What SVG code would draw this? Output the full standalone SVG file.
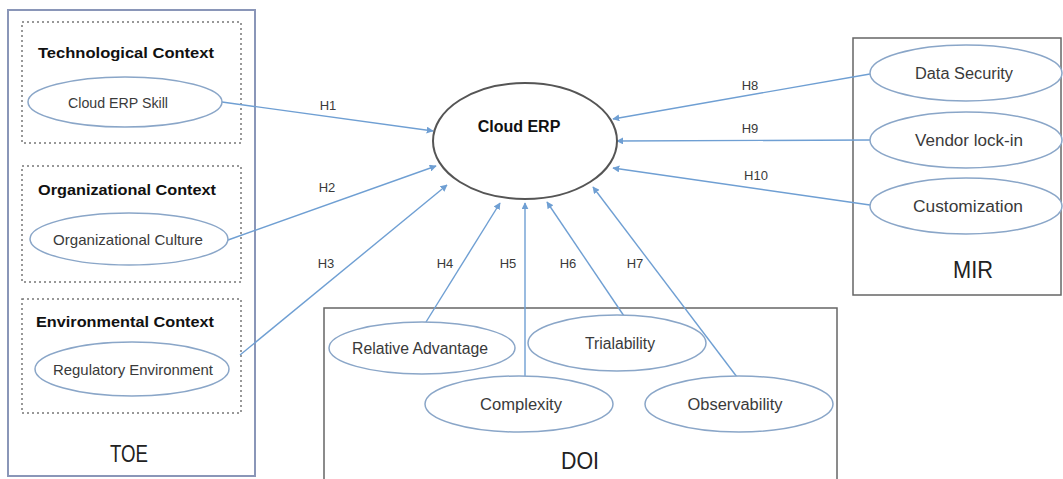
<svg xmlns="http://www.w3.org/2000/svg" width="1063" height="479" viewBox="0 0 1063 479">
<defs>
<style>
text{font-family:"Liberation Sans","DejaVu Sans",sans-serif;fill:#3a3a3a;text-anchor:middle;dominant-baseline:central}
.b{font-weight:bold;fill:#111;font-size:15px}
.n{font-size:15px}
.m{font-size:16px}
.h{font-size:13px}
.big{font-size:23px;fill:#222}
.el{fill:#fff;stroke:#8aa6c8;stroke-width:1.5}
.dot{fill:none;stroke:#777;stroke-width:1.5;stroke-dasharray:2 3}
.box{fill:none;stroke:#666;stroke-width:1.5}
.c{stroke:#6f9fd3;stroke-width:1.4;fill:none;marker-end:url(#ar)}
</style>
<marker id="ar" viewBox="0 0 10 10" refX="9" refY="5" markerWidth="7" markerHeight="7" orient="auto" markerUnits="userSpaceOnUse">
<path d="M0,0 L10,5 L0,10 z" fill="#6f9fd3"/>
</marker>
</defs>
<rect width="1063" height="479" fill="#fff"/>
<g id="TOE">
<rect x="8" y="10" width="247" height="466" fill="none" stroke="#8a96b8" stroke-width="2"/>
<text class="big" x="129" y="454" textLength="38" lengthAdjust="spacingAndGlyphs">TOE</text>
</g>
<g id="tech-context">
<rect class="dot" x="22" y="22" width="219" height="121"/>
<text class="b" x="126" y="52" textLength="176" lengthAdjust="spacingAndGlyphs">Technological Context</text>
</g>
<g id="org-context">
<rect class="dot" x="22" y="166" width="219" height="116"/>
<text class="b" x="127" y="189" textLength="178" lengthAdjust="spacingAndGlyphs">Organizational Context</text>
</g>
<g id="env-context">
<rect class="dot" x="22" y="299" width="219" height="114"/>
<text class="b" x="125" y="321" textLength="178" lengthAdjust="spacingAndGlyphs">Environmental Context</text>
</g>
<g id="MIR">
<rect class="box" x="853" y="38" width="208" height="257"/>
<text class="big" x="973" y="270" textLength="40" lengthAdjust="spacingAndGlyphs">MIR</text>
</g>
<g id="DOI">
<rect class="box" x="324" y="308" width="513" height="175"/>
<text class="big" x="580" y="461" textLength="38" lengthAdjust="spacingAndGlyphs">DOI</text>
</g>
<g id="connectors">
<line class="c" x1="222" y1="102" x2="433" y2="131"/>
<line class="c" x1="228" y1="240" x2="436" y2="166"/>
<line class="c" x1="240" y1="355" x2="447" y2="185"/>
<line class="c" x1="426" y1="322" x2="500" y2="203"/>
<line class="c" x1="525" y1="376" x2="525" y2="203"/>
<line class="c" x1="624" y1="316" x2="547" y2="202"/>
<line class="c" x1="737" y1="377" x2="593" y2="187"/>
<line class="c" x1="870" y1="74" x2="613" y2="119"/>
<line class="c" x1="870" y1="140" x2="617" y2="141"/>
<line class="c" x1="870" y1="205" x2="613" y2="168"/>
<text class="h" x="328" y="105">H1</text>
<text class="h" x="327" y="187">H2</text>
<text class="h" x="326" y="263">H3</text>
<text class="h" x="445" y="263">H4</text>
<text class="h" x="508" y="263">H5</text>
<text class="h" x="568" y="263">H6</text>
<text class="h" x="635" y="263">H7</text>
<text class="h" x="750" y="85">H8</text>
<text class="h" x="750" y="128">H9</text>
<text class="h" x="756" y="175">H10</text>
</g>
<g id="cloud-erp">
<ellipse cx="525" cy="141" rx="92" ry="58" fill="#fff" stroke="#555" stroke-width="2"/>
<text x="519" y="126" style="font-weight:bold;font-size:16px;fill:#111">Cloud ERP</text>
</g>
<g id="cloud-erp-skill">
<ellipse class="el" cx="125" cy="102" rx="97" ry="25"/>
<text class="n" x="118" y="102" textLength="100" lengthAdjust="spacingAndGlyphs">Cloud ERP Skill</text>
</g>
<g id="org-culture">
<ellipse class="el" cx="129" cy="239" rx="99" ry="26"/>
<text class="n" x="128" y="239" textLength="150" lengthAdjust="spacingAndGlyphs">Organizational Culture</text>
</g>
<g id="reg-env">
<ellipse class="el" cx="132" cy="369" rx="97" ry="27"/>
<text class="n" x="133" y="369" textLength="160" lengthAdjust="spacingAndGlyphs">Regulatory Environment</text>
</g>
<g id="data-security">
<ellipse class="el" cx="966" cy="73" rx="96" ry="28"/>
<text class="m" x="964" y="73" textLength="98" lengthAdjust="spacingAndGlyphs">Data Security</text>
</g>
<g id="vendor-lock-in">
<ellipse class="el" cx="966" cy="140" rx="96" ry="28"/>
<text class="m" x="969" y="140" textLength="108" lengthAdjust="spacingAndGlyphs">Vendor lock-in</text>
</g>
<g id="customization">
<ellipse class="el" cx="966" cy="206" rx="96" ry="28"/>
<text class="m" x="968" y="206" textLength="110" lengthAdjust="spacingAndGlyphs">Customization</text>
</g>
<g id="relative-advantage">
<ellipse class="el" cx="422" cy="348" rx="93" ry="26"/>
<text class="m" x="420" y="348" textLength="136" lengthAdjust="spacingAndGlyphs">Relative Advantage</text>
</g>
<g id="trialability">
<ellipse class="el" cx="617" cy="343" rx="89" ry="28"/>
<text class="m" x="620" y="343" textLength="70" lengthAdjust="spacingAndGlyphs">Trialability</text>
</g>
<g id="complexity">
<ellipse class="el" cx="519" cy="404" rx="94" ry="28"/>
<text class="m" x="521" y="404" textLength="82" lengthAdjust="spacingAndGlyphs">Complexity</text>
</g>
<g id="observability">
<ellipse class="el" cx="739" cy="404" rx="94" ry="28"/>
<text class="m" x="735" y="404" textLength="95" lengthAdjust="spacingAndGlyphs">Observability</text>
</g>
</svg>
